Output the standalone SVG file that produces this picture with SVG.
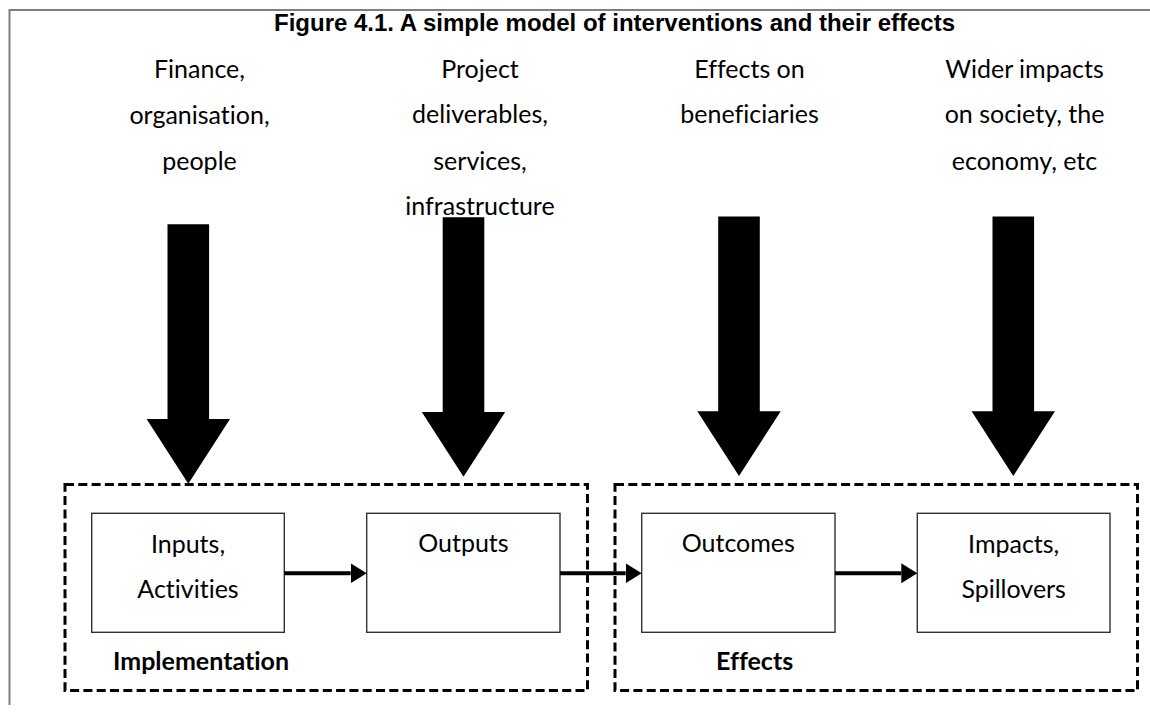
<svg xmlns="http://www.w3.org/2000/svg" xmlns:xlink="http://www.w3.org/1999/xlink" width="1150" height="715" viewBox="0 0 1150 715">
  <style>
    text { font-variant-ligatures: none; font-feature-settings: "liga" 0, "clig" 0; }
    .title { font-family: "Liberation Sans", Arial, sans-serif; font-weight: bold; font-size: 24px; fill: #000; }
    .lbl { font-family: Lato, "Liberation Sans", sans-serif; font-size: 25px; fill: #000; }
    .grp { font-family: Lato, "Liberation Sans", sans-serif; font-weight: bold; font-size: 25px; fill: #000; }
    .frame { stroke: #7f7f7f; stroke-width: 2; fill: none; }
    .stage { fill: #fff; stroke: #333; stroke-width: 1.4; }
    .zone { fill: none; stroke: #000; stroke-width: 3; stroke-dasharray: 9 4.3; }
    .link { stroke: #000; stroke-width: 4; fill: none; }
  </style>
  <defs>
    <!-- block arrow, origin at top centre of the shaft -->
    <path id="bigArrow" d="M-20.8,0 H20.8 V194.7 H41.7 L0,259.5 L-41.7,194.7 H-20.8 Z" fill="#000"/>
    <marker id="head" markerUnits="userSpaceOnUse" markerWidth="18" markerHeight="22" viewBox="0 -11 18 22" refX="0" refY="0" orient="auto">
      <path d="M0,-10 L16,0 L0,10 Z" fill="#000"/>
    </marker>
  </defs>

  <rect width="1150" height="715" fill="#fff"/>

  <!-- page frame -->
  <path class="frame" d="M9.5,705 V10 H1150"/>

  <text class="title" x="614.5" y="31" text-anchor="middle">Figure 4.1. A simple model of interventions and their effects</text>

  <!-- column headings -->
  <g id="heading-inputs">
    <text class="lbl" text-anchor="middle" x="199.5" y="78">Finance,</text>
    <text class="lbl" text-anchor="middle" x="199.5" y="124">organisation,</text>
    <text class="lbl" text-anchor="middle" x="199.5" y="170">people</text>
  </g>
  <g id="heading-outputs">
    <text class="lbl" text-anchor="middle" x="480" y="77.5">Project</text>
    <text class="lbl" text-anchor="middle" x="480" y="123">deliverables,</text>
    <text class="lbl" text-anchor="middle" x="480" y="169.5">services,</text>
    <text class="lbl" text-anchor="middle" x="480" y="215">infrastructure</text>
  </g>
  <g id="heading-outcomes">
    <text class="lbl" text-anchor="middle" x="749.5" y="77.5">Effects on</text>
    <text class="lbl" text-anchor="middle" x="749.5" y="123">beneficiaries</text>
  </g>
  <g id="heading-impacts">
    <text class="lbl" text-anchor="middle" x="1024.5" y="77.5">Wider impacts</text>
    <text class="lbl" text-anchor="middle" x="1024.5" y="123">on society, the</text>
    <text class="lbl" text-anchor="middle" x="1024.5" y="169.5">economy, etc</text>
  </g>

  <!-- downward block arrows -->
  <g id="down-arrows">
    <use xlink:href="#bigArrow" href="#bigArrow" transform="translate(188.3,224.3)"/>
    <use xlink:href="#bigArrow" href="#bigArrow" transform="translate(463.5,217.3)"/>
    <use xlink:href="#bigArrow" href="#bigArrow" transform="translate(739,216.5)"/>
    <use xlink:href="#bigArrow" href="#bigArrow" transform="translate(1013.3,216.5)"/>
  </g>

  <!-- grouping zones -->
  <g id="zone-implementation">
    <rect class="zone" x="65" y="484.5" width="522.5" height="206"/>
    <text class="grp" x="113" y="669.5">Implementation</text>
  </g>
  <g id="zone-effects">
    <rect class="zone" x="615" y="484.5" width="522.5" height="206"/>
    <text class="grp" x="716" y="669.5">Effects</text>
  </g>

  <!-- stages -->
  <g id="inputs">
    <rect class="stage" x="91.7" y="513.3" width="192.6" height="119"/>
    <text class="lbl" text-anchor="middle" x="188" y="552.7">Inputs,</text>
    <text class="lbl" text-anchor="middle" x="188" y="598.3">Activities</text>
  </g>
  <g id="outputs">
    <rect class="stage" x="366.7" y="513.3" width="193.3" height="119"/>
    <text class="lbl" text-anchor="middle" x="463.4" y="552">Outputs</text>
  </g>
  <g id="outcomes">
    <rect class="stage" x="641.7" y="513.3" width="193.3" height="119"/>
    <text class="lbl" text-anchor="middle" x="738.3" y="552">Outcomes</text>
  </g>
  <g id="impacts">
    <rect class="stage" x="917.3" y="513.3" width="192.7" height="119"/>
    <text class="lbl" text-anchor="middle" x="1013.7" y="552.7">Impacts,</text>
    <text class="lbl" text-anchor="middle" x="1013.7" y="598.3">Spillovers</text>
  </g>

  <!-- connectors -->
  <g id="connectors">
    <line class="link" x1="284.3" y1="573.3" x2="350.7" y2="573.3" marker-end="url(#head)"/>
    <line class="link" x1="560" y1="573.3" x2="625.7" y2="573.3" marker-end="url(#head)"/>
    <line class="link" x1="835" y1="573.3" x2="901.3" y2="573.3" marker-end="url(#head)"/>
  </g>
</svg>
